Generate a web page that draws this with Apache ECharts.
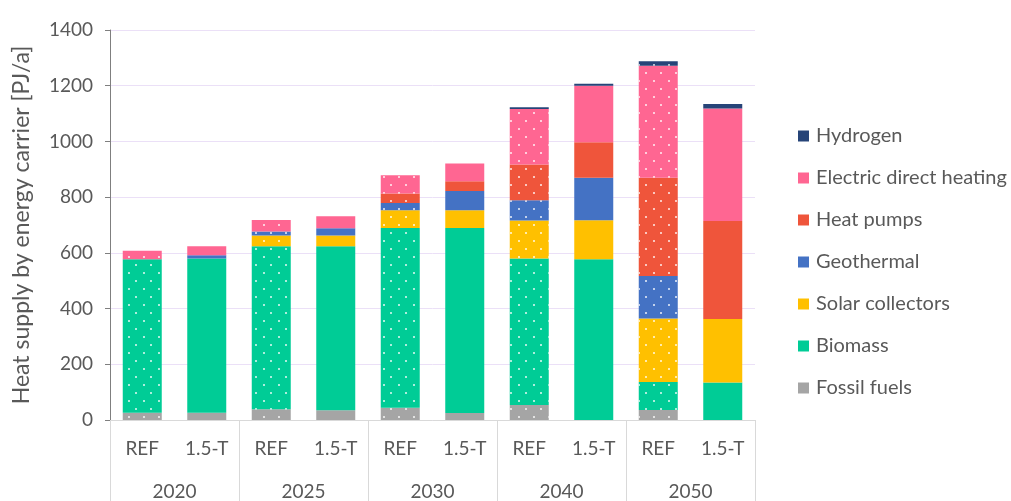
<!DOCTYPE html>
<html>
<head>
<meta charset="utf-8">
<script src="https://cdn.jsdelivr.net/npm/echarts@6/dist/echarts.min.js"></script>
<style>
html,body{margin:0;padding:0;background:#fff;}
#chart{width:1011px;height:501px;}
</style>
</head>
<body>
<div id="chart"></div>
<script>
const years = ['2020', '2025', '2030', '2040', '2050'];
const scenarios = ['REF', '1.5-T', 'REF', '1.5-T', 'REF', '1.5-T', 'REF', '1.5-T', 'REF', '1.5-T'];
const yTicks = [0, 200, 400, 600, 800, 1000, 1200, 1400];
const seriesNames = ['Fossil fuels', 'Biomass', 'Solar collectors', 'Geothermal', 'Heat pumps', 'Electric direct heating', 'Hydrogen'];
const fossil     = [26, 26, 39, 35, 44, 25, 54, 0, 36, 0];
const biomass    = [551, 554, 585, 589, 645, 664, 526, 577, 100, 135];
const solar      = [0, 0, 38, 38, 64, 64, 136, 140, 228, 228];
const geothermal = [0, 11, 15, 26, 26, 69, 73, 153, 153, 0];
const heatPumps  = [0, 0, 0, 0, 34, 35, 128, 127, 353, 351];
const electric   = [31, 33, 41, 43, 66, 64, 199, 203, 402, 404];
const hydrogen   = [0, 0, 0, 0, 0, 0, 7, 7, 16, 16];
const colors = ['#A5A5A5', '#00CC96', '#FFC000', '#4472C4', '#EF553B', '#FF6692', '#264478'];

const seriesValues = [fossil, biomass, solar, geothermal, heatPumps, electric, hydrogen];
const textColor = '#595959';
const font = 'Lato, "Open Sans", sans-serif';

const decal = {
  symbol: 'circle',
  symbolSize: 1,
  color: 'rgba(255,255,255,0.9)',
  dashArrayX: [[2, 13], [0, 8, 2, 5]],
  dashArrayY: [2, 6],
  rotation: 0
};

const series = seriesNames.map((name, si) => ({
  name: name,
  type: 'bar',
  stack: 'total',
  xAxisIndex: 0,
  barWidth: 39,
  itemStyle: { color: colors[si] },
  emphasis: { disabled: true },
  data: seriesValues[si].map((v, i) => scenarios[i] === 'REF'
    ? { value: v, itemStyle: { decal: decal } }
    : { value: v })
}));

const chart = echarts.init(document.getElementById('chart'), null, { renderer: 'canvas' });
chart.setOption({
  animation: false,
  backgroundColor: '#ffffff',
  textStyle: { fontFamily: font, color: textColor },
  grid: { left: 110, right: 256, top: 30, bottom: 81, containLabel: false },
  legend: {
    orient: 'vertical',
    left: 793,
    top: 121,
    itemWidth: 11,
    itemHeight: 11,
    itemGap: 22,
    icon: 'rect',
    data: seriesNames.slice().reverse(),
    textStyle: { fontFamily: font, fontSize: 20, color: textColor, padding: [0, 0, 0, 2] }
  },
  xAxis: [
    {
      type: 'category',
      data: scenarios,
      position: 'bottom',
      axisLine: { show: true, lineStyle: { color: '#d9d9d9', width: 1 } },
      axisTick: { show: false },
      axisLabel: { interval: 0, margin: 19, fontSize: 19, color: textColor, fontFamily: font }
    },
    {
      type: 'category',
      data: years,
      position: 'bottom',
      axisLine: { show: false },
      axisTick: { show: true, length: 81, interval: 0, lineStyle: { color: '#d9d9d9', width: 1 } },
      axisLabel: { interval: 0, margin: 62, fontSize: 19, color: textColor, fontFamily: font },
      splitLine: { show: false }
    }
  ],
  yAxis: {
    type: 'value',
    min: yTicks[0],
    max: yTicks[yTicks.length - 1],
    interval: 200,
    name: 'Heat supply by energy carrier [PJ/a]',
    nameLocation: 'middle',
    nameGap: 77,
    nameTextStyle: { fontSize: 23, color: textColor, fontFamily: font },
    axisLine: { show: true, lineStyle: { color: '#7f7f7f', width: 1 } },
    axisTick: { show: true, length: 5, lineStyle: { color: '#7f7f7f' } },
    axisLabel: { fontSize: 19, color: textColor, margin: 17, fontFamily: font, formatter: v => String(v) },
    splitLine: { show: true, lineStyle: { color: '#ebe0f7', width: 1 } }
  },
  series: series
});
</script>
</body>
</html>
